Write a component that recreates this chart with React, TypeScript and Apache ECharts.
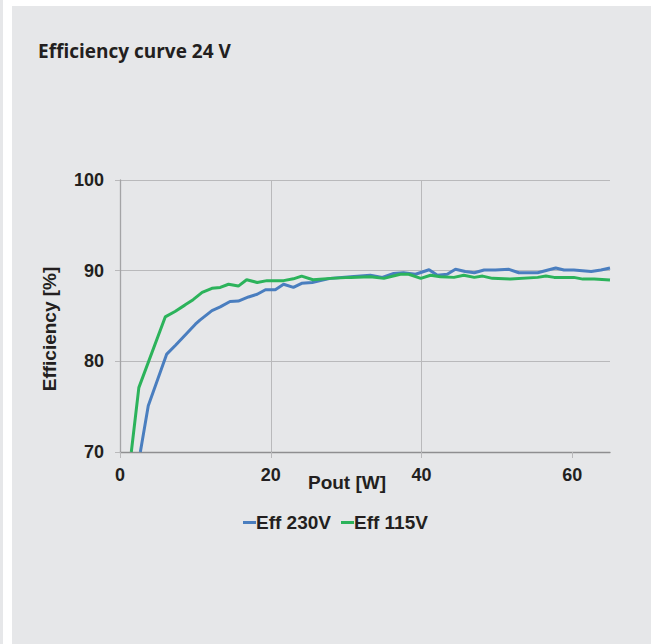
import React, { useEffect, useRef } from "react";
import * as echarts from "echarts";

const titleText = "Efficiency curve 24 V";
const xName = "Pout [W]";
const yName = "Efficiency [%]";
const xTicks = [0, 20, 40, 60];
const seriesNames = ["Eff 230V", "Eff 115V"];

const eff230X = [2.7, 3.75, 6.2, 7.4, 10.0, 10.6, 12.2, 13.3, 14.6, 15.7, 17.05, 18.2, 19.3, 20.6, 21.7, 23.0, 24.1, 25.5, 26.6, 27.9, 30.6, 33.2, 34.8, 36.3, 37.6, 39.2, 41.0, 42.1, 43.4, 44.5, 45.8, 47.0, 48.3, 49.8, 51.6, 52.9, 55.4, 57.8, 58.9, 60.2, 62.5, 63.8, 65.0];
const eff230Y = [70, 75.1, 80.8, 81.8, 84.1, 84.55, 85.6, 86.0, 86.6, 86.65, 87.1, 87.4, 87.9, 87.9, 88.5, 88.15, 88.6, 88.7, 88.9, 89.15, 89.33, 89.5, 89.26, 89.7, 89.77, 89.6, 90.1, 89.5, 89.6, 90.15, 89.9, 89.77, 90.07, 90.07, 90.15, 89.77, 89.77, 90.3, 90.07, 90.07, 89.9, 90.07, 90.3];

const eff115X = [1.5, 2.5, 6.0, 7.3, 8.6, 9.7, 10.9, 12.2, 13.3, 14.4, 15.7, 16.8, 18.2, 19.5, 21.7, 23.0, 24.1, 25.6, 27.9, 30.6, 33.2, 35.0, 37.2, 38.3, 39.9, 41.2, 42.5, 44.3, 45.6, 47.0, 48.1, 49.4, 51.8, 55.4, 56.5, 57.6, 60.2, 61.4, 62.9, 65.0];
const eff115Y = [70, 77.1, 84.9, 85.5, 86.2, 86.8, 87.6, 88.05, 88.15, 88.5, 88.3, 89.0, 88.7, 88.9, 88.9, 89.1, 89.4, 89.0, 89.15, 89.26, 89.33, 89.15, 89.6, 89.6, 89.15, 89.5, 89.33, 89.26, 89.5, 89.26, 89.4, 89.15, 89.07, 89.26, 89.4, 89.26, 89.26, 89.07, 89.07, 88.96];

const pairs = (xs: number[], ys: number[]) => xs.map((x, i) => [x, ys[i]]);

export default function App() {
  const ref = useRef<HTMLDivElement>(null);
  useEffect(() => {
    if (!ref.current) return;
    const chart = echarts.init(ref.current, null, { renderer: "svg" });
    const font = "'Liberation Sans', Arial, sans-serif";
    const grid = "#b9b9bb";
    chart.setOption({
      animation: false,
      backgroundColor: "transparent",
      title: {
        text: titleText,
        left: 33,
        top: 36,
        textStyle: { fontFamily: "'Open Sans', sans-serif", fontWeight: 700, fontSize: 19, color: "#231f20", letterSpacing: -0.4 },
      },
      legend: {
        data: seriesNames,
        left: 238,
        top: 508,
        icon: "rect",
        itemWidth: 13,
        itemHeight: 3,
        itemGap: 10,
        textStyle: { fontFamily: font, fontWeight: "bold", fontSize: 19, color: "#231f20", padding: [0, 0, 0, -5] },
      },
      grid: { left: 120, right: 41, top: 180, bottom: 192 },
      xAxis: {
        type: "value",
        min: 0,
        max: 65,
        interval: 20,
        name: xName,
        nameLocation: "middle",
        nameGap: 21,
        nameMoveOverlap: false,
        nameTextStyle: { fontFamily: font, fontWeight: "bold", fontSize: 19, color: "#231f20", padding: [0, 36, 0, 0] },
        axisLine: { show: true, lineStyle: { color: "#8e8e90", width: 1.3 } },
        axisTick: { show: true, customValues: xTicks, length: 6, lineStyle: { color: grid } },
        axisLabel: { customValues: xTicks, margin: 14, fontFamily: font, fontWeight: "bold", fontSize: 18, color: "#231f20" },
        splitLine: { show: true, showMinLine: false, showMaxLine: false, lineStyle: { color: grid, width: 1 } },
      },
      yAxis: {
        type: "value",
        min: 70,
        max: 100,
        interval: 10,
        name: yName,
        nameLocation: "middle",
        nameGap: 61,
        nameMoveOverlap: false,
        nameTextStyle: { fontFamily: font, fontWeight: "bold", fontSize: 19, color: "#231f20", padding: [0, 26, 0, 0] },
        axisLine: { show: true, lineStyle: { color: "#a4a4a6", width: 1.3 } },
        axisTick: { show: true, length: 5, lineStyle: { color: grid } },
        axisLabel: { margin: 16, fontFamily: font, fontWeight: "bold", fontSize: 18, color: "#231f20" },
        splitLine: { show: true, showMinLine: false, lineStyle: { color: grid, width: 1 } },
      },
      series: [
        {
          name: seriesNames[0],
          type: "line",
          data: pairs(eff230X, eff230Y),
          showSymbol: false,
          symbol: "none",
          color: "#4a7ebf",
          lineStyle: { width: 3, color: "#4a7ebf" },
          clip: true,
        },
        {
          name: seriesNames[1],
          type: "line",
          data: pairs(eff115X, eff115Y),
          showSymbol: false,
          symbol: "none",
          color: "#2cb35b",
          lineStyle: { width: 3, color: "#2cb35b" },
          clip: true,
        },
      ],
    });
    return () => chart.dispose();
  }, []);

  return (
    <div style={{ position: "fixed", left: 0, top: 0, width: 651, height: 644, background: "#ffffff", overflow: "hidden" }}>
      <div style={{ position: "absolute", left: 0, top: 0, width: 3, height: 644, background: "#e6e7e9" }} />
      <div style={{ position: "absolute", left: 12, top: 6, width: 639, height: 638, background: "#e6e7e9" }} />
      <div ref={ref} style={{ position: "absolute", left: 0, top: 0, width: 651, height: 644 }} />
    </div>
  );
}
